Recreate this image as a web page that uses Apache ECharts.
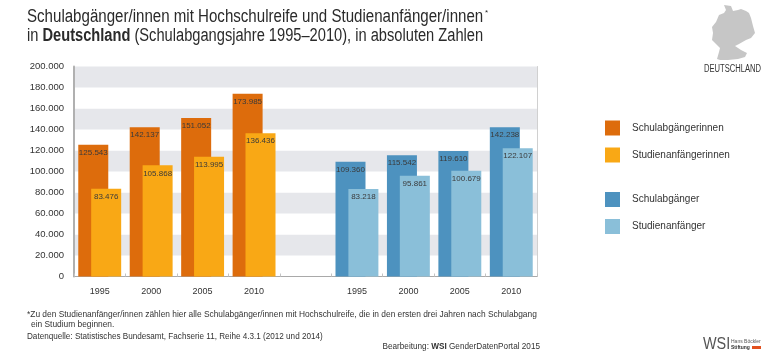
<!DOCTYPE html>
<html>
<head>
<meta charset="utf-8">
<style>
  html, body { margin: 0; padding: 0; background: #fff; }
  #chart { width: 768px; height: 355px; }
</style>
<script src="https://cdn.jsdelivr.net/npm/echarts@6/dist/echarts.min.js"></script>
</head>
<body>
<div id="chart"></div>
<script>
// Kategorien: leere Mitte trennt Frauen- und Männergruppe
const categories = ['1995', '2000', '2005', '2010', '', '1995', '2000', '2005', '2010']
const yTicks = [0, 20000, 40000, 60000, 80000, 100000, 120000, 140000, 160000, 180000, 200000]

const schulabgaengerinnen = [125543, 142137, 151052, 173985, null, null, null, null, null]
const studienanfaengerinnen = [83476, 105868, 113995, 136436, null, null, null, null, null]
const schulabgaenger = [null, null, null, null, null, 109360, 115542, 119610, 142238]
const studienanfaenger = [null, null, null, null, null, 83218, 95861, 100679, 122107]

const fontMain = '"Liberation Sans", Arial, sans-serif'

// Tausenderpunkt wie im Original
const fmt = v => String(v).replace(/\B(?=(\d{3})+$)/g, '.')

const makeBar = (name, data, color, stack) => ({
  name,
  type: 'bar',
  stack,
  data,
  barWidth: 30,
  barGap: '-57%',
  itemStyle: { color },
  label: {
    show: true,
    position: 'insideTop',
    distance: 4,
    fontFamily: fontMain,
    fontSize: 8,
    color: '#3a3a3a',
    formatter: p => fmt(p.value)
  }
})

const legendBase = {
  orient: 'vertical',
  left: 605,
  padding: 0,
  itemWidth: 15,
  itemHeight: 15,
  itemGap: 12,
  icon: 'rect',
  textStyle: { fontFamily: fontMain, fontSize: 10, color: '#333', padding: [3, 0, 0, 7] }
}

// Freitexte (Titel, Fußnoten); scaleX ersetzt die schmale Originalschrift
const text = (x, y, value, style, scaleX) => ({
  type: 'text', x, y, scaleX: scaleX || 1, silent: true,
  style: Object.assign({ text: value, fontFamily: fontMain, fill: '#333', verticalAlign: 'top' }, style)
})

// Umriss Deutschland, rein dekorativ
const mapOutline = [
  [724, 5], [731, 6], [733, 11], [738, 10], [741, 9], [746, 11], [749, 13], [751, 18], [753, 26],
  [755, 33], [751, 38], [746, 40], [739, 44], [735, 46], [741, 50], [747, 53], [745, 57], [738, 59],
  [728, 60], [720, 60], [717, 59], [719, 52], [720, 48], [716, 44], [712, 40], [713, 33], [712, 27],
  [716, 22], [719, 15], [724, 13], [726, 10]
]

const chart = echarts.init(document.getElementById('chart'))
chart.setOption({
  animation: false,
  backgroundColor: '#fff',
  grid: { left: 74, right: 231, top: 66.5, bottom: 78.5 },
  legend: [
    Object.assign({ top: 120.5, data: ['Schulabgängerinnen', 'Studienanfängerinnen'] }, legendBase),
    Object.assign({ top: 192, data: ['Schulabgänger', 'Studienanfänger'] }, legendBase)
  ],
  xAxis: {
    type: 'category',
    data: categories,
    axisLine: { lineStyle: { color: '#a9a9a9', width: 1 } },
    axisTick: { show: true, inside: true, length: 3, lineStyle: { color: '#c4c4c4' } },
    axisLabel: { fontFamily: fontMain, fontSize: 9, color: '#333', margin: 11 }
  },
  yAxis: [
    {
      type: 'value',
      min: 0,
      max: yTicks[yTicks.length - 1],
      interval: yTicks[1],
      axisLine: { show: true, lineStyle: { color: '#b0b0b0', width: 2 } },
      axisTick: { show: false },
      axisLabel: { fontFamily: fontMain, fontSize: 9.5, color: '#333', margin: 10, formatter: v => fmt(v) },
      splitLine: { show: false },
      splitArea: { show: true, areaStyle: { color: ['#ffffff', '#e6e7eb'] } }
    },
    {
      type: 'value',
      position: 'right',
      min: 0,
      max: yTicks[yTicks.length - 1],
      interval: yTicks[1],
      axisLine: { show: true, lineStyle: { color: '#d0d0d0', width: 1 } },
      axisTick: { show: false },
      axisLabel: { show: false },
      splitLine: { show: false }
    }
  ],
  series: [
    makeBar('Schulabgängerinnen', schulabgaengerinnen, '#dd6c0c', 'a'),
    makeBar('Studienanfängerinnen', studienanfaengerinnen, '#f9a815', 'b'),
    makeBar('Schulabgänger', schulabgaenger, '#4d92bf', 'a'),
    makeBar('Studienanfänger', studienanfaenger, '#8abfd9', 'b')
  ],
  graphic: [
    text(27, 8, 'Schulabgänger/innen mit Hochschulreife und Studienanfänger/innen', { fontSize: 18, fill: '#2a2a2a' }, 0.838),
    text(485, 9, '*', { fontSize: 8, fill: '#2a2a2a' }),
    text(27, 27, '{a|in }{b|Deutschland}{a| (Schulabgangsjahre 1995–2010), in absoluten Zahlen}', {
      rich: {
        a: { fontFamily: fontMain, fontSize: 18, fill: '#2a2a2a' },
        b: { fontFamily: fontMain, fontSize: 18, fontWeight: 'bold', fill: '#2a2a2a' }
      }
    }, 0.814),
    { type: 'polygon', silent: true, shape: { points: mapOutline }, style: { fill: '#c6c6c6' } },
    text(704, 64, 'DEUTSCHLAND', { fontSize: 10, fill: '#333' }, 0.76),
    text(27, 311, '*Zu den Studienanfänger/innen zählen hier alle Schulabgänger/innen mit Hochschulreife, die in den ersten drei Jahren nach Schulabgang', { fontSize: 8.4 }),
    text(31, 321, 'ein Studium beginnen.', { fontSize: 8.4 }),
    text(27, 333, 'Datenquelle: Statistisches Bundesamt, Fachserie 11, Reihe 4.3.1 (2012 und 2014)', { fontSize: 8.15 }),
    text(540, 343, '{a|Bearbeitung: }{b|WSI}{a| GenderDatenPortal 2015}', {
      align: 'right',
      rich: {
        a: { fontFamily: fontMain, fontSize: 8.2, fill: '#333' },
        b: { fontFamily: fontMain, fontSize: 8.2, fontWeight: 'bold', fill: '#333' }
      }
    }),
    text(703, 337, 'WSI', { fontSize: 16, fill: '#555' }, 0.9),
    text(731, 339, 'Hans Böckler', { fontSize: 5, fill: '#555' }),
    text(731, 345, 'Stiftung', { fontSize: 5, fontWeight: 'bold', fill: '#333' }),
    { type: 'rect', silent: true, shape: { x: 752, y: 346, width: 9, height: 3 }, style: { fill: '#e2501e' } }
  ]
})
</script>
</body>
</html>
